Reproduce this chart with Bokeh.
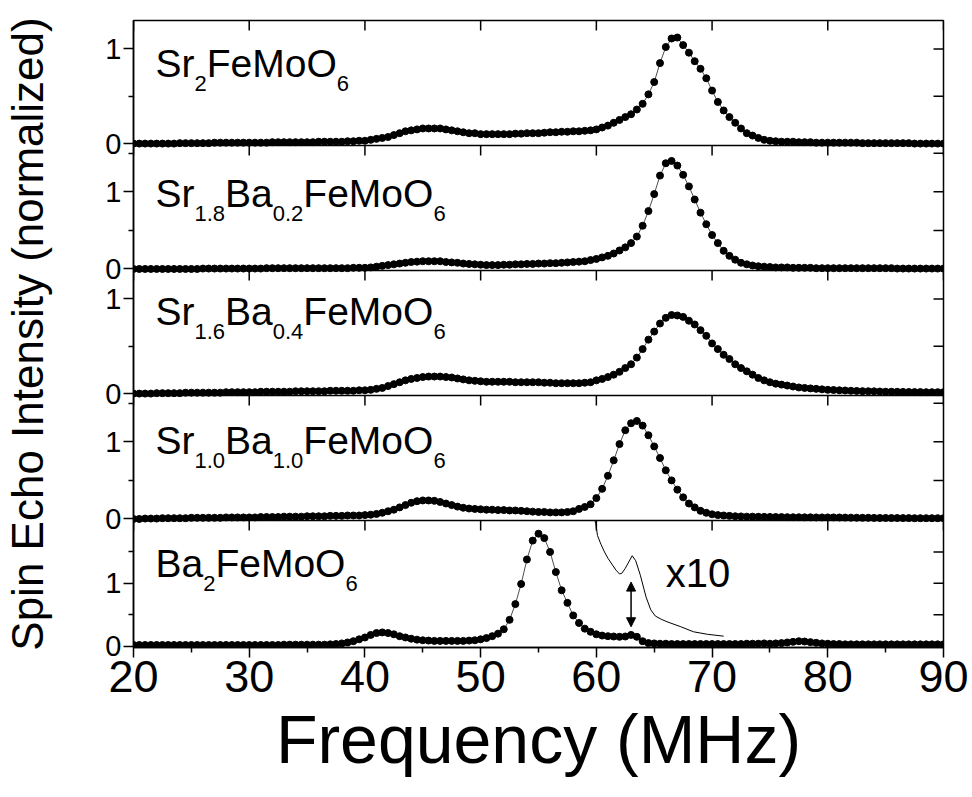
from bokeh.plotting import figure
from bokeh.models import Range1d, LinearAxis, FixedTicker, Label, Arrow, NormalHead, Span
from bokeh.embed import file_html
from bokeh.resources import INLINE

FONT = "Liberation Sans"

# ---------------- data ----------------
freq = [20 + 0.5 * i for i in range(141)]  # 20 ... 90 MHz, 0.5 MHz steps

sr2 = [
    0.00, 0.00, 0.00, 0.00, 0.00, 0.00, 0.00, 0.00, 0.005, 0.005,
    0.005, 0.005, 0.005, 0.005, 0.01, 0.01, 0.01, 0.01, 0.01, 0.01,
    0.01, 0.01, 0.01, 0.01, 0.015, 0.015, 0.015, 0.015, 0.015, 0.015,
    0.015, 0.015, 0.02, 0.02, 0.02, 0.02, 0.02, 0.025, 0.025, 0.03,
    0.03, 0.04, 0.05, 0.06, 0.07, 0.09, 0.11, 0.13, 0.14, 0.15,
    0.16, 0.16, 0.16, 0.16, 0.15, 0.14, 0.13, 0.12, 0.11, 0.11,
    0.10, 0.10, 0.10, 0.10, 0.10, 0.10, 0.105, 0.105, 0.11, 0.11,
    0.11, 0.115, 0.12, 0.12, 0.125, 0.125, 0.13, 0.13, 0.135, 0.14,
    0.15, 0.17, 0.19, 0.22, 0.25, 0.28, 0.31, 0.36, 0.42, 0.52,
    0.65, 0.85, 1.02, 1.11, 1.12, 1.04, 0.96, 0.87, 0.79, 0.69,
    0.56, 0.44, 0.35, 0.28, 0.22, 0.16, 0.11, 0.085, 0.06, 0.04,
    0.03, 0.025, 0.02, 0.02, 0.02, 0.015, 0.015, 0.015, 0.01, 0.01,
    0.01, 0.01, 0.01, 0.01, 0.01, 0.01, 0.005, 0.005, 0.005, 0.005,
    0.005, 0.005, 0.005, 0.005, 0.005, 0.00, 0.00, 0.00, 0.00, 0.00,
    0.00,
]

sr18ba02 = [
    0.00, 0.00, 0.00, 0.00, 0.00, 0.00, 0.00, 0.00, 0.00, 0.00,
    0.00, 0.00, 0.005, 0.005, 0.005, 0.005, 0.005, 0.005, 0.005, 0.005,
    0.005, 0.005, 0.005, 0.01, 0.01, 0.01, 0.01, 0.01, 0.01, 0.01,
    0.01, 0.01, 0.01, 0.01, 0.01, 0.01, 0.01, 0.01, 0.015, 0.015,
    0.015, 0.02, 0.03, 0.04, 0.05, 0.06, 0.07, 0.08, 0.09, 0.095,
    0.10, 0.10, 0.10, 0.10, 0.09, 0.085, 0.08, 0.07, 0.065, 0.06,
    0.055, 0.05, 0.05, 0.05, 0.055, 0.055, 0.06, 0.06, 0.065, 0.065,
    0.07, 0.07, 0.075, 0.075, 0.08, 0.085, 0.09, 0.095, 0.10, 0.115,
    0.13, 0.15, 0.17, 0.20, 0.24, 0.28, 0.335, 0.42, 0.56, 0.75,
    0.97, 1.21, 1.37, 1.40, 1.34, 1.22, 1.07, 0.90, 0.73, 0.58,
    0.44, 0.335, 0.235, 0.17, 0.12, 0.08, 0.06, 0.045, 0.035, 0.03,
    0.025, 0.02, 0.02, 0.02, 0.015, 0.015, 0.015, 0.015, 0.01, 0.01,
    0.01, 0.01, 0.01, 0.01, 0.01, 0.01, 0.01, 0.01, 0.01, 0.01,
    0.01, 0.01, 0.005, 0.005, 0.005, 0.005, 0.005, 0.005, 0.005, 0.005,
    0.005,
]

sr16ba04 = [
    0.00, 0.00, 0.00, 0.00, 0.005, 0.005, 0.005, 0.005, 0.005, 0.01,
    0.01, 0.01, 0.01, 0.01, 0.01, 0.01, 0.015, 0.015, 0.015, 0.015,
    0.015, 0.015, 0.02, 0.02, 0.02, 0.02, 0.02, 0.02, 0.025, 0.025,
    0.025, 0.025, 0.025, 0.025, 0.03, 0.03, 0.03, 0.03, 0.03, 0.035,
    0.035, 0.04, 0.05, 0.06, 0.08, 0.10, 0.12, 0.14, 0.155, 0.165,
    0.175, 0.18, 0.18, 0.18, 0.175, 0.17, 0.16, 0.15, 0.14, 0.135,
    0.13, 0.125, 0.125, 0.125, 0.125, 0.125, 0.12, 0.12, 0.12, 0.12,
    0.12, 0.115, 0.115, 0.11, 0.11, 0.11, 0.11, 0.11, 0.115, 0.12,
    0.14, 0.155, 0.175, 0.20, 0.23, 0.27, 0.31, 0.38, 0.47, 0.57,
    0.655, 0.74, 0.80, 0.83, 0.825, 0.81, 0.77, 0.73, 0.67, 0.61,
    0.53, 0.47, 0.41, 0.365, 0.31, 0.27, 0.235, 0.20, 0.165, 0.14,
    0.12, 0.105, 0.095, 0.085, 0.075, 0.065, 0.06, 0.055, 0.05, 0.045,
    0.04, 0.038, 0.035, 0.033, 0.03, 0.028, 0.026, 0.025, 0.024, 0.022,
    0.02, 0.02, 0.019, 0.018, 0.017, 0.016, 0.016, 0.015, 0.015, 0.015,
    0.015,
]

sr10ba10 = [
    0.00, 0.00, 0.005, 0.005, 0.005, 0.01, 0.01, 0.01, 0.01, 0.01,
    0.015, 0.015, 0.015, 0.015, 0.015, 0.015, 0.02, 0.02, 0.02, 0.02,
    0.02, 0.02, 0.025, 0.025, 0.025, 0.025, 0.03, 0.03, 0.03, 0.03,
    0.035, 0.035, 0.035, 0.035, 0.04, 0.04, 0.04, 0.045, 0.045, 0.045,
    0.05, 0.055, 0.065, 0.08, 0.10, 0.12, 0.15, 0.18, 0.21, 0.23,
    0.24, 0.24, 0.235, 0.22, 0.20, 0.18, 0.16, 0.145, 0.135, 0.13,
    0.125, 0.12, 0.12, 0.115, 0.115, 0.11, 0.11, 0.105, 0.10, 0.095,
    0.09, 0.09, 0.085, 0.085, 0.085, 0.09, 0.10, 0.13, 0.155, 0.19,
    0.27, 0.39, 0.56, 0.76, 0.97, 1.15, 1.24, 1.27, 1.21, 1.085,
    0.94, 0.79, 0.63, 0.50, 0.38, 0.28, 0.20, 0.15, 0.105, 0.08,
    0.06, 0.05, 0.045, 0.04, 0.035, 0.033, 0.03, 0.03, 0.028, 0.027,
    0.026, 0.025, 0.024, 0.023, 0.022, 0.022, 0.021, 0.021, 0.02, 0.02,
    0.02, 0.02, 0.019, 0.018, 0.017, 0.016, 0.015, 0.015, 0.014, 0.013,
    0.013, 0.012, 0.012, 0.011, 0.011, 0.01, 0.01, 0.01, 0.01, 0.01,
    0.01,
]

ba2 = [
    0.02, 0.02, 0.02, 0.02, 0.02, 0.02, 0.02, 0.02, 0.02, 0.02,
    0.02, 0.02, 0.02, 0.02, 0.02, 0.02, 0.02, 0.02, 0.02, 0.02,
    0.02, 0.02, 0.02, 0.02, 0.02, 0.02, 0.025, 0.025, 0.025, 0.025,
    0.025, 0.025, 0.025, 0.025, 0.03, 0.035, 0.045, 0.06, 0.08, 0.11,
    0.14, 0.18, 0.21, 0.22, 0.21, 0.19, 0.16, 0.14, 0.12, 0.105,
    0.095, 0.09, 0.085, 0.085, 0.085, 0.085, 0.085, 0.085, 0.09, 0.095,
    0.11, 0.13, 0.16, 0.20, 0.27, 0.42, 0.67, 0.99, 1.38, 1.68,
    1.79, 1.72, 1.50, 1.18, 0.89, 0.69, 0.49, 0.37, 0.28, 0.23,
    0.19, 0.17, 0.16, 0.155, 0.15, 0.155, 0.18, 0.15, 0.08, 0.05,
    0.045, 0.04, 0.04, 0.035, 0.035, 0.035, 0.035, 0.035, 0.035, 0.035,
    0.035, 0.035, 0.035, 0.035, 0.035, 0.035, 0.04, 0.04, 0.04, 0.045,
    0.04, 0.045, 0.05, 0.06, 0.07, 0.08, 0.075, 0.065, 0.055, 0.045,
    0.04, 0.035, 0.035, 0.03, 0.03, 0.03, 0.03, 0.03, 0.03, 0.03,
    0.03, 0.03, 0.03, 0.03, 0.03, 0.03, 0.03, 0.03, 0.03, 0.03,
    0.03,
]

# magnified (x10) trace of the Ba2FeMoO6 spectrum (enters from the panel top)
x10_freq = [59.87, 59.95, 60.1, 60.4, 60.7, 61.0, 61.4, 61.7, 62.0, 62.2, 62.5, 62.8,
            63.1, 63.4, 63.8, 64.3, 64.7, 65.1, 65.6, 66.1, 67.3, 68.4, 69.6, 71.0]
x10_vals = [2.00, 1.95, 1.76, 1.62, 1.50, 1.40, 1.29, 1.21, 1.15, 1.16, 1.24, 1.34,
            1.44, 1.36, 1.13, 0.78, 0.58, 0.48, 0.43, 0.39, 0.31, 0.23, 0.19, 0.16]

x_major = [20, 30, 40, 50, 60, 70, 80, 90]
x_minor = [25, 35, 45, 55, 65, 75, 85]
y_major = [0, 1]
y_minor = [0.5, 1.5]
y_right_ticks = [0, 0.5, 1, 1.5]

series = [sr2, sr18ba02, sr16ba04, sr10ba10, ba2]
formulas = [
    [("Sr", False), ("2", True), ("FeMoO", False), ("6", True)],
    [("Sr", False), ("1.8", True), ("Ba", False), ("0.2", True), ("FeMoO", False), ("6", True)],
    [("Sr", False), ("1.6", True), ("Ba", False), ("0.4", True), ("FeMoO", False), ("6", True)],
    [("Sr", False), ("1.0", True), ("Ba", False), ("1.0", True), ("FeMoO", False), ("6", True)],
    [("Ba", False), ("2", True), ("FeMoO", False), ("6", True)],
]
y_tops = [1.3, 1.6, 1.3, 1.6, 2.0]
Y_BOTTOM = -0.02

arrow_freq, arrow_lo, arrow_hi = 63.0, 0.31, 1.02
x10_text_freq, x10_text_y = 66.0, 1.17

# ---------------- layout constants ----------------
W, H = 972, 797
BORDER_L, BORDER_R, BORDER_T, BORDER_B = 133, 29, 20, 150
FRAME_W = W - BORDER_L - BORDER_R      # 810
FRAME_H = H - BORDER_T - BORDER_B      # 627
band_h = [125, 125, 125, 125, 127]     # panel heights, top to bottom
label_base_px = [57, 62, 55, 59, 57]   # formula baseline below panel top
LABEL_LEFT_PX = 22
MAIN_SIZE = 39
SUB_SIZE = 22
SUB_DROP = 14
TICK_IN = 10

ARIAL_W = {'S': .667, 'r': .333, 'B': .667, 'a': .556, 'F': .611, 'e': .556,
           'M': .833, 'o': .556, 'O': .778, '.': .278}
for d in "0123456789":
    ARIAL_W[d] = .556


def text_width(s, size):
    return sum(ARIAL_W[c] for c in s) * size


# panel bands in frame pixels (measured upward from the frame bottom)
tops, bots = [], []
cur = FRAME_H
for h in band_h:
    tops.append(cur)
    bots.append(cur - h)
    cur -= h

p = figure(width=W, height=H, x_range=Range1d(20, 90), y_range=Range1d(0, FRAME_H),
           x_axis_location=None, y_axis_location=None,
           min_border_left=BORDER_L, min_border_right=BORDER_R,
           min_border_top=BORDER_T, min_border_bottom=BORDER_B,
           output_backend="svg", toolbar_location=None,
           background_fill_color="white", border_fill_color="white")
p.grid.visible = False
p.outline_line_color = "black"
p.outline_line_width = 1.5
p.extra_x_ranges = {"px": Range1d(0, FRAME_W)}

extra = {}
left_major, left_minor, left_labels, right_pos = [], [], {}, []
for k in range(5):
    lo, hi = Y_BOTTOM, y_tops[k]
    s = (hi - lo) / band_h[k]
    extra[f"p{k}"] = Range1d(lo - bots[k] * s, hi + (FRAME_H - tops[k]) * s)
    for v in y_major:
        pos = round(bots[k] + (v - lo) / s, 3)
        left_major.append(pos)
        left_labels[pos] = str(v)
    for v in y_minor:
        if v < hi:
            left_minor.append(round(bots[k] + (v - lo) / s, 3))
    for v in y_right_ticks:
        if v < hi:
            right_pos.append(bots[k] + (v - lo) / s)
p.extra_y_ranges = extra


def style_axis(ax):
    ax.axis_line_color = "black"
    ax.axis_line_width = 1.5
    ax.major_tick_line_color = "black"
    ax.major_tick_line_width = 1.5
    ax.minor_tick_line_color = "black"
    ax.minor_tick_line_width = 1.5
    ax.major_label_text_font = FONT
    ax.major_label_text_color = "black"
    ax.axis_label_text_font = FONT
    ax.axis_label_text_color = "black"
    ax.axis_label_text_font_style = "normal"


ya = LinearAxis(ticker=FixedTicker(ticks=left_major, minor_ticks=left_minor),
                major_label_overrides=left_labels,
                axis_label="Spin Echo Intensity (normalized)",
                major_tick_out=10, major_tick_in=0,
                minor_tick_out=5, minor_tick_in=0,
                major_label_standoff=2,
                major_label_text_font_size="29px",
                axis_label_text_font_size="44px",
                axis_label_standoff=50)
style_axis(ya)
p.add_layout(ya, "left")

xa = LinearAxis(ticker=FixedTicker(ticks=x_major, minor_ticks=x_minor),
                axis_label="Frequency (MHz)",
                major_tick_out=10, major_tick_in=0,
                minor_tick_out=5, minor_tick_in=0,
                major_label_standoff=3,
                major_label_text_font_size="45px",
                axis_label_text_font_size="68px",
                axis_label_standoff=6)
style_axis(xa)
p.add_layout(xa, "below")

# panel separators
for k in range(4):
    p.add_layout(Span(location=bots[k], dimension="width",
                      line_color="black", line_width=1.5))

# inward ticks at the top of each panel and on the right edge
top_x0, top_y0, top_y1 = [], [], []
for k in range(5):
    for xv in x_major:
        top_x0.append(xv)
        top_y0.append(tops[k])
        top_y1.append(tops[k] - TICK_IN)
p.segment(x0=top_x0, y0=top_y0, x1=top_x0, y1=top_y1,
          line_color="black", line_width=1.5)
p.segment(x0=[FRAME_W - TICK_IN] * len(right_pos), y0=right_pos,
          x1=[FRAME_W] * len(right_pos), y1=right_pos,
          x_range_name="px", line_color="black", line_width=1.5)

# spectra
for k in range(5):
    rn = f"p{k}"
    p.line(freq, series[k], y_range_name=rn, line_color="black", line_width=0.7)
    p.scatter(freq, series[k], y_range_name=rn, size=7,
              fill_color="black", line_color="black")

    # formula with subscripts
    y_main = tops[k] - label_base_px[k] + 0.35 * MAIN_SIZE
    y_sub = tops[k] - label_base_px[k] - SUB_DROP + 0.35 * SUB_SIZE
    x0 = 20 + LABEL_LEFT_PX * (70 / FRAME_W)
    off = 0.0
    for txt, sub in formulas[k]:
        size = SUB_SIZE if sub else MAIN_SIZE
        p.add_layout(Label(x=x0, y=y_sub if sub else y_main, x_offset=off, text=txt,
                           text_font=FONT, text_font_size=f"{size}px",
                           text_baseline="middle", text_align="left",
                           text_color="black"))
        off += text_width(txt, size)

# x10 inset trace, arrow and label in the Ba2FeMoO6 panel
p.line(x10_freq, x10_vals, y_range_name="p4", line_color="black", line_width=1)
p.add_layout(Arrow(start=NormalHead(size=9, fill_color="black", line_color="black"),
                   end=NormalHead(size=9, fill_color="black", line_color="black"),
                   x_start=arrow_freq, y_start=arrow_lo,
                   x_end=arrow_freq, y_end=arrow_hi,
                   y_range_name="p4", line_color="black", line_width=1.5))
p.add_layout(Label(x=x10_text_freq, y=x10_text_y, y_range_name="p4", text="x10",
                   text_font=FONT, text_font_size="40px",
                   text_baseline="middle", text_align="left", text_color="black"))

open("out.html", "w").write(file_html(p, INLINE))
